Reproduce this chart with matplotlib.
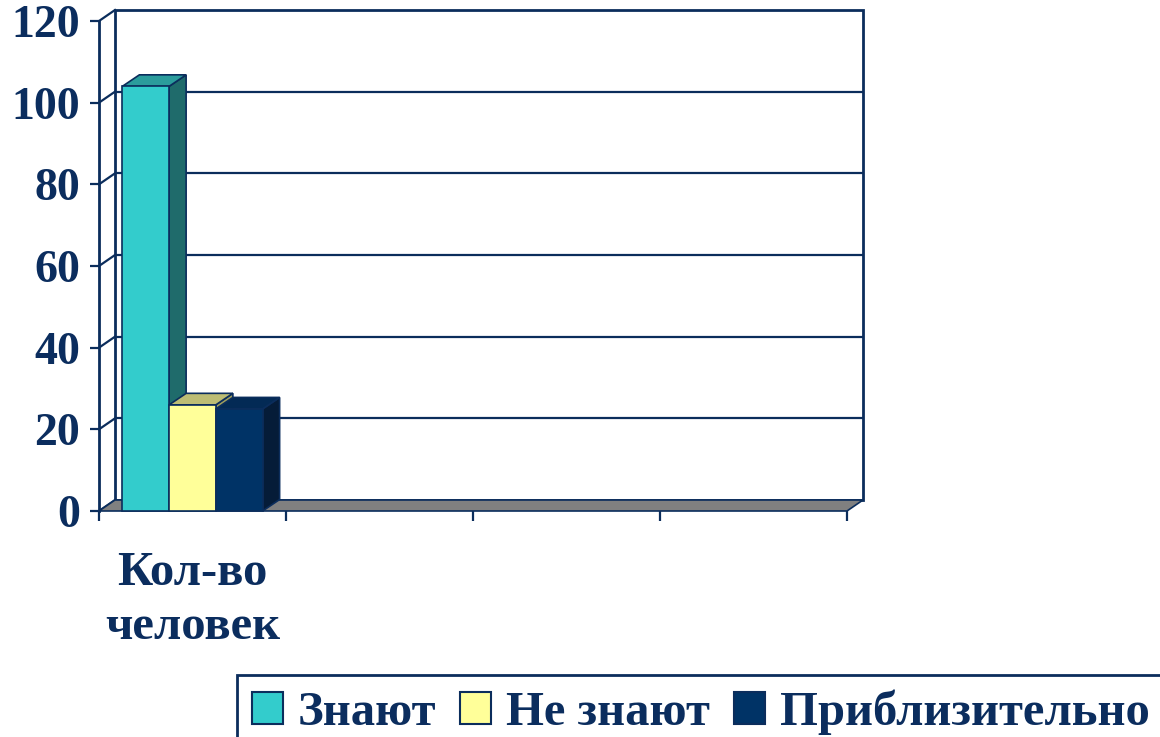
import matplotlib
matplotlib.use("Agg")
import matplotlib.pyplot as plt
from matplotlib.patches import Polygon, Rectangle, Patch

# ---- data ----
categories = ["Кол-во\nчеловек", "", "", ""]
series_names = ["Знают", "Не знают", "Приблизительно"]
series_values = [104, 26, 25]
yticks = [0, 20, 40, 60, 80, 100, 120]

# ---- styles ----
face_colors = ["#33CCCC", "#FFFF99", "#003366"]
side_colors = ["#1F6B6B", "#9E9E5E", "#051C38"]
top_colors = ["#2B9C9C", "#BDBD74", "#032A55"]
navy = "#0B2D5C"
text_color = "#0B2D5E"
serif = ["Liberation Serif", "DejaVu Serif"]

W, H = 1160, 737
fig = plt.figure(figsize=(W / 100, H / 100), dpi=100)
fig.patch.set_facecolor("white")
ax = fig.add_axes([99 / W, (H - 511) / H, 748 / W, 490 / H])
ax.set_xlim(0, len(categories))
ax.set_ylim(0, 120)
ax.set_facecolor("none")

# pixel -> data conversions for depth
px_x = len(categories) / 748.0
px_y = 120 / 490.0
wdx, wdy = 16 * px_x, 11 * px_y      # wall depth
bdx, bdy = 17 * px_x, 11.5 * px_y    # bar depth

# back wall
ax.add_patch(Rectangle((wdx, wdy), len(categories), 120, facecolor="white",
                       edgecolor=navy, lw=2, zorder=1, clip_on=False))
for v in yticks:
    if 0 < v < 120:
        ax.plot([wdx, len(categories) + wdx], [v + wdy, v + wdy], color=navy,
                lw=1.6, zorder=1.5, clip_on=False, solid_capstyle="butt")
    ax.plot([0, wdx], [v, v + wdy], color=navy, lw=1.6, zorder=1.5, clip_on=False)

# floor
ax.add_patch(Polygon([(0, 0), (len(categories), 0),
                      (len(categories) + wdx, wdy), (wdx, wdy)],
                     closed=True, facecolor="#808080", edgecolor=navy, lw=1.2,
                     zorder=2, clip_on=False))

# bars
w = 0.25
for i, (name, val) in enumerate(zip(series_names, series_values)):
    x0 = 0.5 + (i - 1.5) * w
    side = Polygon([(x0 + w, 0), (x0 + w + bdx, bdy), (x0 + w + bdx, val + bdy), (x0 + w, val)],
                   closed=True, facecolor=side_colors[i], edgecolor=navy, lw=1.2,
                   zorder=3 + i, clip_on=False)
    top = Polygon([(x0, val), (x0 + bdx, val + bdy), (x0 + w + bdx, val + bdy), (x0 + w, val)],
                  closed=True, facecolor=top_colors[i], edgecolor=navy, lw=1.2,
                  zorder=3 + i, clip_on=False)
    ax.add_patch(side)
    ax.add_patch(top)
    ax.bar([x0], [val], width=w, align="edge", color=face_colors[i], edgecolor=navy,
           lw=1.2, zorder=3.5 + i, clip_on=False)

# axes styling
for s in ["top", "right", "bottom"]:
    ax.spines[s].set_visible(False)
ax.spines["left"].set_color(navy)
ax.spines["left"].set_linewidth(2)
ax.spines["left"].set_zorder(2.5)
ax.set_yticks(yticks)
ax.set_yticklabels([str(v) for v in yticks], fontsize=33, fontweight="bold",
                   family=serif, color=text_color)
ax.tick_params(axis="y", direction="out", length=6.5, width=1.6, color=navy, pad=7)

ax.set_xticks([i + 0.5 for i in range(len(categories))])
ax.set_xticklabels(categories, fontsize=35, fontweight="bold", family=serif,
                   color=text_color, linespacing=1.3)
ax.tick_params(axis="x", which="major", length=0, pad=29)
ax.set_xticks(list(range(len(categories) + 1)), minor=True)
ax.tick_params(axis="x", which="minor", direction="out", length=7, width=1.6, color=navy)

# legend frame (extends past the figure edge as in the original)
fig.patches.append(Rectangle((237 / W, -0.05), 1.0, 1 - 675 / H + 0.05,
                             transform=fig.transFigure, facecolor="white",
                             edgecolor=navy, lw=2, zorder=0))
handles = [Patch(facecolor=c, edgecolor=navy, lw=1.5) for c in face_colors]
leg = fig.legend(handles, series_names, loc="upper left",
                 bbox_to_anchor=(237 / W, 1 - 675 / H), ncol=3, frameon=False,
                 borderaxespad=0, borderpad=0.3,
                 handlelength=0.64, handleheight=0.64, handletextpad=0.3,
                 columnspacing=0.5,
                 prop={"family": serif, "weight": "bold", "size": 35},
                 labelcolor=text_color)

fig.savefig("out.png", dpi=100, facecolor="white")
